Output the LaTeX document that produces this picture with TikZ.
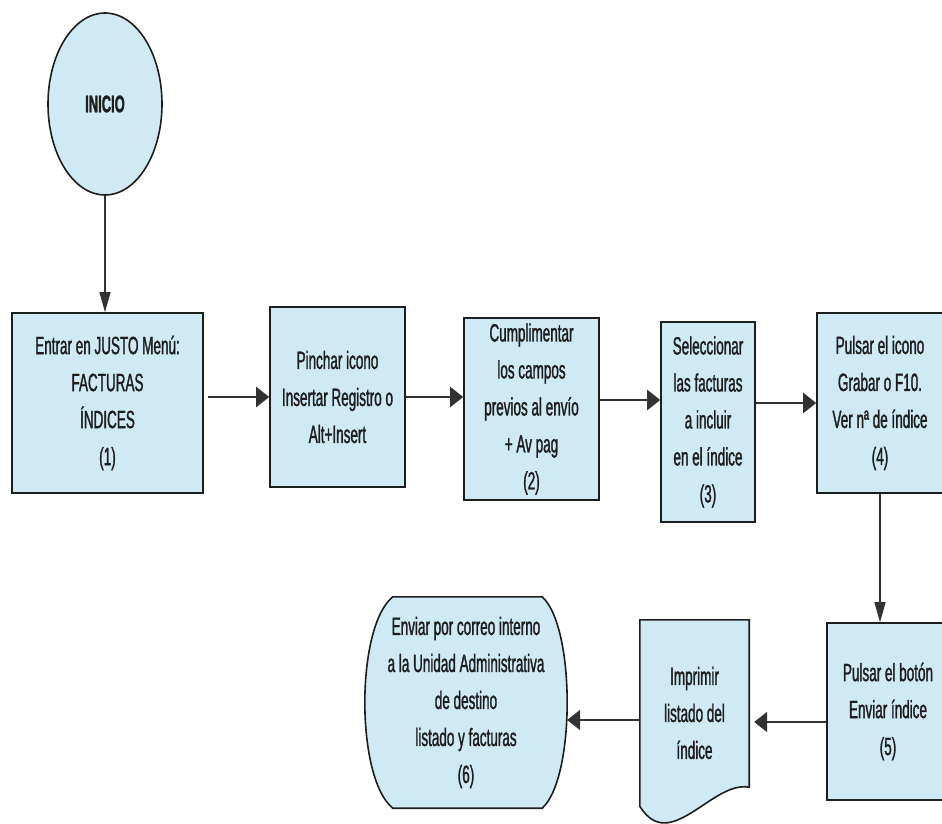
\documentclass[tikz,border=0pt]{standalone}
\usepackage{fontspec}
\setmainfont{Liberation Sans}[FakeStretch=0.54,FakeBold=1.2]
\usetikzlibrary{shapes.geometric,arrows.meta,backgrounds}

\definecolor{boxfill}{RGB}{208,234,244}
\definecolor{edge}{RGB}{30,30,30}
\definecolor{linkcol}{RGB}{50,50,50}
\definecolor{ink}{RGB}{30,30,30}

\tikzset{
  steptext/.style={text=ink, align=center, inner sep=0pt, font=\fontsize{25}{37}\selectfont},
  stepbox/.style={steptext, rectangle, draw=edge, line width=1.6pt, fill=boxfill},
  startnode/.style={steptext, ellipse, draw=edge, line width=1.6pt, fill=boxfill,
    font=\fontsize{24}{30}\selectfont\bfseries},
  holder/.style={steptext, rectangle, draw=none},
  outline/.style={draw=edge, line width=1.6pt, fill=boxfill},
  harrow/.style={draw=linkcol, line width=2.2pt, -{Triangle[length=13pt,width=20pt]}},
  varrow/.style={draw=linkcol, line width=1.2pt, -{Triangle[length=20pt,width=11pt]}},
}

\begin{document}
\begin{tikzpicture}[x=1pt,y=-1pt]
  \clip (0,0) rectangle (942,824);

  % start
  \node[startnode, minimum width=114pt, minimum height=182pt] (ini) at (105,104) {INICIO};

  % upper row of steps
  \node[stepbox, minimum width=191pt, minimum height=180pt] (b1) at (107.5,403)
    {Entrar en JUSTO Menú:\\FACTURAS\\ÍNDICES\\(1)};
  \node[stepbox, minimum width=135pt, minimum height=180pt] (b2) at (337.5,397)
    {Pinchar icono\\Insertar Registro o\\Alt+Insert};
  \node[stepbox, minimum width=135pt, minimum height=182pt] (b3) at (531.5,409)
    {Cumplimentar\\los campos\\previos al envío\\+ Av pag\\(2)};
  \node[stepbox, minimum width=94pt, minimum height=200pt] (b4) at (708,422)
    {Seleccionar\\las facturas\\a incluir\\en el índice\\(3)};
  \node[stepbox, minimum width=126pt, minimum height=180pt] (b5) at (880,403)
    {Pulsar el icono\\Grabar o F10.\\Ver nª de índice\\(4)};

  % lower row
  \node[stepbox, minimum width=122pt, minimum height=177pt] (b6) at (888,711.5)
    {Pulsar el botón\\Enviar índice\\(5)};
  \node[holder, minimum width=109pt, minimum height=186pt] (doc) at (694.5,713)
    {Imprimir\\listado del\\índice};
  \node[holder, minimum width=202pt, minimum height=211pt] (t6) at (466,702.5)
    {Enviar por correo interno\\a la Unidad Administrativa\\de destino\\listado y facturas\\(6)};

  \begin{scope}[on background layer]
    \fill[white] (0,0) rectangle (942,824);
    % document symbol with wavy lower edge
    \path[outline] (doc.north west) -- (doc.north east)
      -- ([yshift=19pt]doc.south east)
      .. controls ([xshift=-37pt,yshift=26pt]doc.south east)
             and ([xshift=30pt,yshift=-49pt]doc.south west) .. (doc.south west)
      -- cycle;
    % terminal symbol with bulging sides
    \path[outline] ([xshift=28pt]t6.north west) -- ([xshift=-25pt]t6.north east)
      .. controls ([xshift=8.3pt,yshift=-30pt]t6.north east)
             and ([xshift=8.3pt,yshift=30pt]t6.south east) .. ([xshift=-25pt]t6.south east)
      -- ([xshift=28pt]t6.south west)
      .. controls ([xshift=-9.3pt,yshift=30pt]t6.south west)
             and ([xshift=-9.3pt,yshift=-30pt]t6.north west) .. ([xshift=28pt]t6.north west)
      -- cycle;
  \end{scope}

  % connectors
  \draw[varrow] (ini.south) -- (ini.south |- b1.north);
  \draw[harrow] ([xshift=4pt]b1.east |- b2.west) -- (b2.west);
  \draw[harrow] (b2.east) -- (b2.east -| b3.west);
  \draw[harrow] ([yshift=9pt]b3.east) -- ([yshift=9pt]b3.east -| b4.west);
  \draw[harrow] (b5.west -| b4.east) -- (b5.west);
  \draw[varrow] (b5.south) -- (b5.south |- b6.north);
  \draw[harrow] ([yshift=-10.5pt]b6.west) -- ([yshift=-10.5pt,xshift=5pt]b6.west -| doc.east);
  \draw[harrow] ([yshift=-7pt]doc.west) -- ([yshift=-7pt]doc.west -| t6.east);
\end{tikzpicture}
\end{document}
